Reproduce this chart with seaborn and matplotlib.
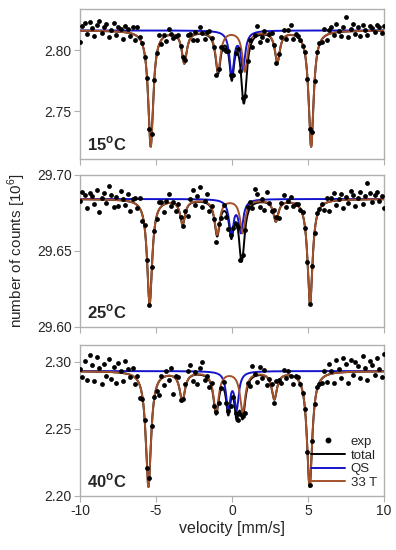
import numpy as np
import pandas as pd
import matplotlib
matplotlib.use("Agg")
import matplotlib.pyplot as plt
from matplotlib.lines import Line2D
import seaborn as sns

# Panel labels (temperature)
temps = ['15', '25', '40']

# Baseline counts (10^6)
baselines = [2.8164, 29.6842, 2.2931]

# 33 T sextet: line positions (mm/s), depths (10^6 counts), half width
sextet_pos = [
    [-5.35, -3.14, -0.92, 0.84, 2.98, 5.20],
    [-5.42, -3.25, -0.98, 0.70, 2.88, 5.13],
    [-5.50, -3.27, -1.05, 0.70, 2.78, 5.10],
]
sextet_depth = [
    [0.095, 0.026, 0.033, 0.033, 0.025, 0.095],
    [0.069, 0.016, 0.023, 0.022, 0.014, 0.069],
    [0.086, 0.0215, 0.030, 0.030, 0.020, 0.086],
]
sextet_hwhm = [0.20, 0.20, 0.21]

# QS doublet
qs_pos = [[-0.02, 0.72], [-0.05, 0.58], [-0.25, 0.30]]
qs_depth = [[0.036, 0.030], [0.022, 0.021], [0.027, 0.027]]
qs_hwhm = [0.18, 0.18, 0.17]

# Experimental points: deviation from the fit (10^-3 of 10^6 counts), 128 channels
resid_15 = [-9, 4, 6, -3, 7, 2, -4, 5, 8, -2, 3, 6, -5, 1, 7, -3, 4, 2, -6, 5, 3, -2, 6, -4, 8, 2,
            1, -2, 0, 1, -1, 0, 2, 8,
            -3, 2, -4, 5, 1, -2, 0, 3, -1, 1, 0,
            9, 4, -3, 2, -5, 6, 1, -4, 3, 5, 2, 1,
            -8, 2, 6, -2, -4, 3, 1, -3, 2, 4, -2, 1, -1, 3,
            6, -5, 2, 8, -6, -2, 3, -4, 2, 5, 1, -3, 3, 6,
            7, -2, 4, 8, -3, 2, 1, 0, -1, 2, 0,
            1, 0, -1, 2, 1, -2,
            6, -4, 3, 5, -2, 7, 1, -3, 4, 12, -5, 2, 6, -2, 3, -4, 5, 1, -3, 4, 2, -1, 5, 3, -2, 4]
resid_25 = [-1, 5, 3, -6, 4, 2, -3, 6, -8, 1, 4, -2, 9, 3, -5, 2, -4, 6, 1, -3, 5, -6, 2, 4, -2, 7,
            -4, 2, 0, -1, 1, 0, -2, 5,
            3, -5, 2, 6, -2, 1, -4, 3, 0, -1, 2,
            -6, 3, 8, -2, 4, 10, -3, 1, 6, -4, 2, 0,
            -5, 3, -2, 4, -3, -5, 2, 1, -1, 2, -3, 1, 0, 5,
            4, -2, 10, 6, -3, 2, -5, 7, 1, -2, 4, 3, -4, 2,
            6, -3, 1, 4, -2, 0, 1, -1, 2, 0, -1,
            0, 1, -1, 2, 0, 1,
            -4, 3, -6, 2, 5, -3, 1, 4, -5, 2, -2, 6, 3, -4, 1, 5, -3, 2, 11, 4, -2, 3, 5, -1, 2, -6]
resid_40 = [2, -4, 8, -6, 12, 5, -7, 11, 3, -9, 6, -3, 10, -5, 4, -8, 7, 1, -6, 9, 4, -2, 6, -5, 3, -9,
            -2, 0, 1, -1, 0, 1, -3, -10,
            2, -6, 4, -3, 6, -13, 2, 5, -4, 1, 3,
            7, 9, -4, 2, -7, 5, 10, -3, 1, -5, 3, -2,
            2, -3, 1, 5, -2, 3, -4, 1, 2, -3, -1, 2, -9, 3,
            -4, 9, 2, -5, 6, -2, 4, -6, 1, 3, -3, 8, 2, -4,
            5, -2, 3, 0, -6, 1, 2, 0, -1, 1, 0,
            1, -1, 0, 2, -1, -3,
            4, -5, 8, 2, -7, 10, 3, -4, 11, 6, -8, 9, -2, 7, 4, -5, 12, 3, -6, 8, 5, -3, 10, 2, -4, 13]
residuals = [resid_15, resid_25, resid_40]

# y axis settings per panel
ylims = [(2.711, 2.834), (29.60, 29.70), (2.20, 2.3125)]
yticks = [[2.75, 2.80], [29.60, 29.65, 29.70], [2.20, 2.25, 2.30]]

v_channels = np.linspace(-10, 10, 128)
v_fine = np.linspace(-10, 10, 1200)

c_sext = '#a4522a'
c_qs = '#1414cc'
c_grey = '#b0b0b0'


def lorentz_sum(v, pos, depth, hwhm):
    out = np.zeros_like(v)
    for p, d in zip(pos, depth):
        out += d * hwhm ** 2 / ((v - p) ** 2 + hwhm ** 2)
    return out


sns.set_style('white')
plt.rcParams['font.family'] = ['Liberation Sans', 'DejaVu Sans']
plt.rcParams['mathtext.fontset'] = 'custom'
plt.rcParams['mathtext.rm'] = 'Liberation Sans'
plt.rcParams['mathtext.bf'] = 'Liberation Sans:bold'

fig = plt.figure(figsize=(3.96, 5.5), dpi=100)
rects = [[0.202, 0.711, 0.768, 0.2727],
         [0.202, 0.4055, 0.768, 0.2764],
         [0.202, 0.0982, 0.768, 0.2745]]

for i in range(3):
    ax = fig.add_axes(rects[i])
    sext = lorentz_sum(v_fine, sextet_pos[i], sextet_depth[i], sextet_hwhm[i])
    qs = lorentz_sum(v_fine, qs_pos[i], qs_depth[i], qs_hwhm[i])
    curves = pd.DataFrame({'velocity': v_fine,
                           'total': baselines[i] - sext - qs,
                           'QS': baselines[i] - qs,
                           'sext': baselines[i] - sext})
    fit_ch = (baselines[i]
              - lorentz_sum(v_channels, sextet_pos[i], sextet_depth[i], sextet_hwhm[i])
              - lorentz_sum(v_channels, qs_pos[i], qs_depth[i], qs_hwhm[i]))
    exp = pd.DataFrame({'velocity': v_channels,
                        'counts': fit_ch + np.array(residuals[i]) * 1e-3})

    sns.lineplot(data=curves, x='velocity', y='total', color='black', lw=1.4,
                 estimator=None, ax=ax, zorder=2)
    sns.lineplot(data=curves, x='velocity', y='QS', color=c_qs, lw=1.4,
                 estimator=None, ax=ax, zorder=3)
    sns.lineplot(data=curves, x='velocity', y='sext', color=c_sext, lw=1.4,
                 estimator=None, ax=ax, zorder=4)
    sns.scatterplot(data=exp, x='velocity', y='counts', color='black', s=12,
                    linewidth=0, ax=ax, zorder=5)

    ax.set_xlim(-10, 10)
    ax.set_ylim(*ylims[i])
    ax.set_yticks(yticks[i])
    ax.set_yticklabels([f'{t:.2f}' for t in yticks[i]], fontsize=10)
    ax.set_xticks([-10, -5, 0, 5, 10])
    ax.set_xlabel('')
    ax.set_ylabel('')
    if i < 2:
        ax.set_xticklabels([])
    else:
        ax.set_xticklabels(['-10', '-5', '0', '5', '10'], fontsize=10)
    for sp in ax.spines.values():
        sp.set_color(c_grey)
        sp.set_linewidth(1.0)
    ax.tick_params(direction='out', length=4, width=0.8, color=c_grey,
                   bottom=True, left=True, pad=2)
    ax.text(0.022, 0.04, temps[i] + r'$^{\mathbf{o}}$C', transform=ax.transAxes,
            fontsize=12, fontweight='bold', ha='left', va='bottom')

    if i == 2:
        handles = [Line2D([], [], ls='none', marker='o', ms=3.2, color='black'),
                   Line2D([], [], color='black', lw=1.4),
                   Line2D([], [], color=c_qs, lw=1.4),
                   Line2D([], [], color=c_sext, lw=1.4)]
        ax.legend(handles, ['exp', 'total', 'QS', '33 T'], loc='lower right',
                  frameon=False, fontsize=9.5, handlelength=2.6, handletextpad=0.4,
                  labelspacing=0.1, borderaxespad=0.15)
        ax.set_xlabel('velocity [mm/s]', fontsize=11.5, labelpad=2)

fig.text(0.043, 0.544, r'number of counts [10$^{6}$]', rotation=90,
         ha='center', va='center', fontsize=11)

fig.savefig('out.png', dpi=100)
